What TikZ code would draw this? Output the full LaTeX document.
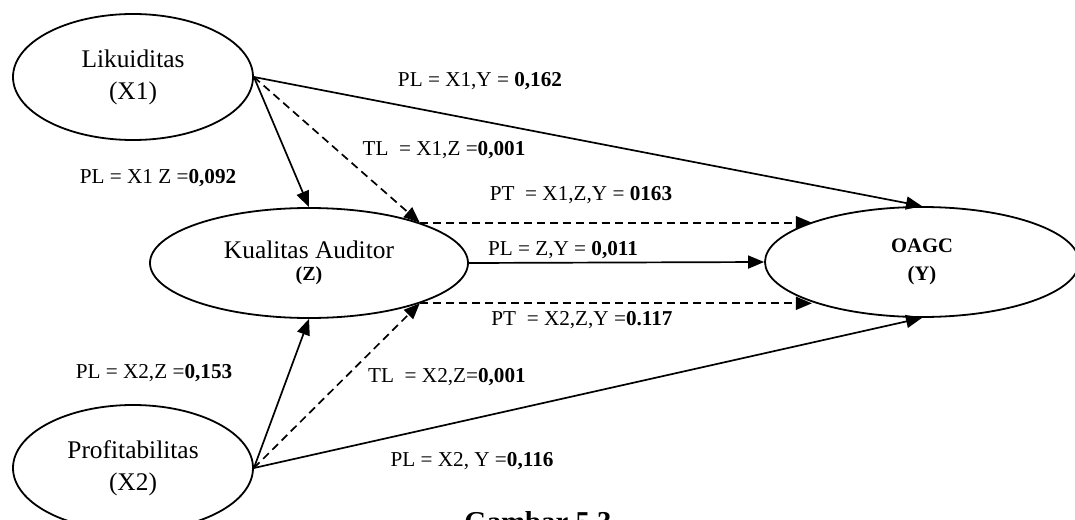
\documentclass[tikz,border=0pt]{standalone}
\usepackage{fontspec}
\setmainfont{Liberation Serif}
\usetikzlibrary{arrows.meta,shapes.geometric}

\begin{document}
\begin{tikzpicture}[x=0.5pt,y=-0.5pt,
  var/.style={draw,ellipse,line width=0.9pt,inner sep=0pt,align=center,
    font=\fontsize{12.7}{16}\selectfont},
  effect/.style={line width=0.85pt,-{Triangle[length=8pt,width=6.5pt]}},
  indirect/.style={effect,dash pattern=on 4pt off 2.5pt},
  lbl/.style={font=\fontsize{10.6}{12}\selectfont,inner sep=0pt},
  capt/.style={font=\fontsize{14.4}{16}\selectfont\bfseries,inner sep=0pt,anchor=base}]
\useasboundingbox (0,0) rectangle (1075,519);
\clip (0,0) rectangle (1075,519);

% variables
\node[var,minimum width=120pt,minimum height=63pt] (L) at (133,77) {Likuiditas\\(X1)};
\node[var,minimum width=159pt,minimum height=55pt] (K) at (309,263)
  {Kualitas Auditor\\[-5pt]{\fontsize{10}{12}\selectfont\bfseries (Z)}};
\node[var,minimum width=157pt,minimum height=55pt] (O) at (922,262)
  {\fontsize{10.3}{12}\selectfont\bfseries OAGC\\[-2pt]\fontsize{10.3}{12}\selectfont\bfseries (Y)};
\node[var,minimum width=120pt,minimum height=63pt] (P) at (133,468) {Profitabilitas\\(X2)};

% direct effects
\draw[effect] (L.east) -- (K.north);
\draw[effect] (L.east) -- (O.north);
\draw[effect] (K.east) -- (O.west);
\draw[effect] (P.east) -- (K.south);
\draw[effect] (P.east) -- (O.south);

% indirect effects through Z
\draw[indirect] (L.east) -- (K.20);
\draw[indirect] (P.east) -- (K.-20);
\draw[indirect] (K.20) -- (K.20 -| O.160);
\draw[indirect] (K.-20) -- (K.-20 -| O.-160);

% coefficients
\node[lbl] (l1) at (480,81) {PL = X1,Y = \textbf{0,162}};
\node[lbl] (l2) at (444,150) {TL\ \ = X1,Z =\textbf{0,001}};
\node[lbl] (l3) at (158,178) {PL = X1 Z =\textbf{0,092}};
\node[lbl] (l4) at (581,195) {PT\ \ = X1,Z,Y = \textbf{0163}};
\node[lbl] (l5) at (563,250) {PL = Z,Y = \textbf{0,011}};
\node[lbl] (l6) at (582,320) {PT\ \ = X2,Z,Y =\textbf{0.117}};
\node[lbl] (l7) at (154,373) {PL = X2,Z =\textbf{0,153}};
\node[lbl] (l8) at (447,377) {TL\ \ = X2,Z=\textbf{0,001}};
\node[lbl] (l9) at (472,461) {PL = X2, Y =\textbf{0,116}};

\node[capt] (cap) at (538,531) {Gambar 5.3};
\end{tikzpicture}
\end{document}
